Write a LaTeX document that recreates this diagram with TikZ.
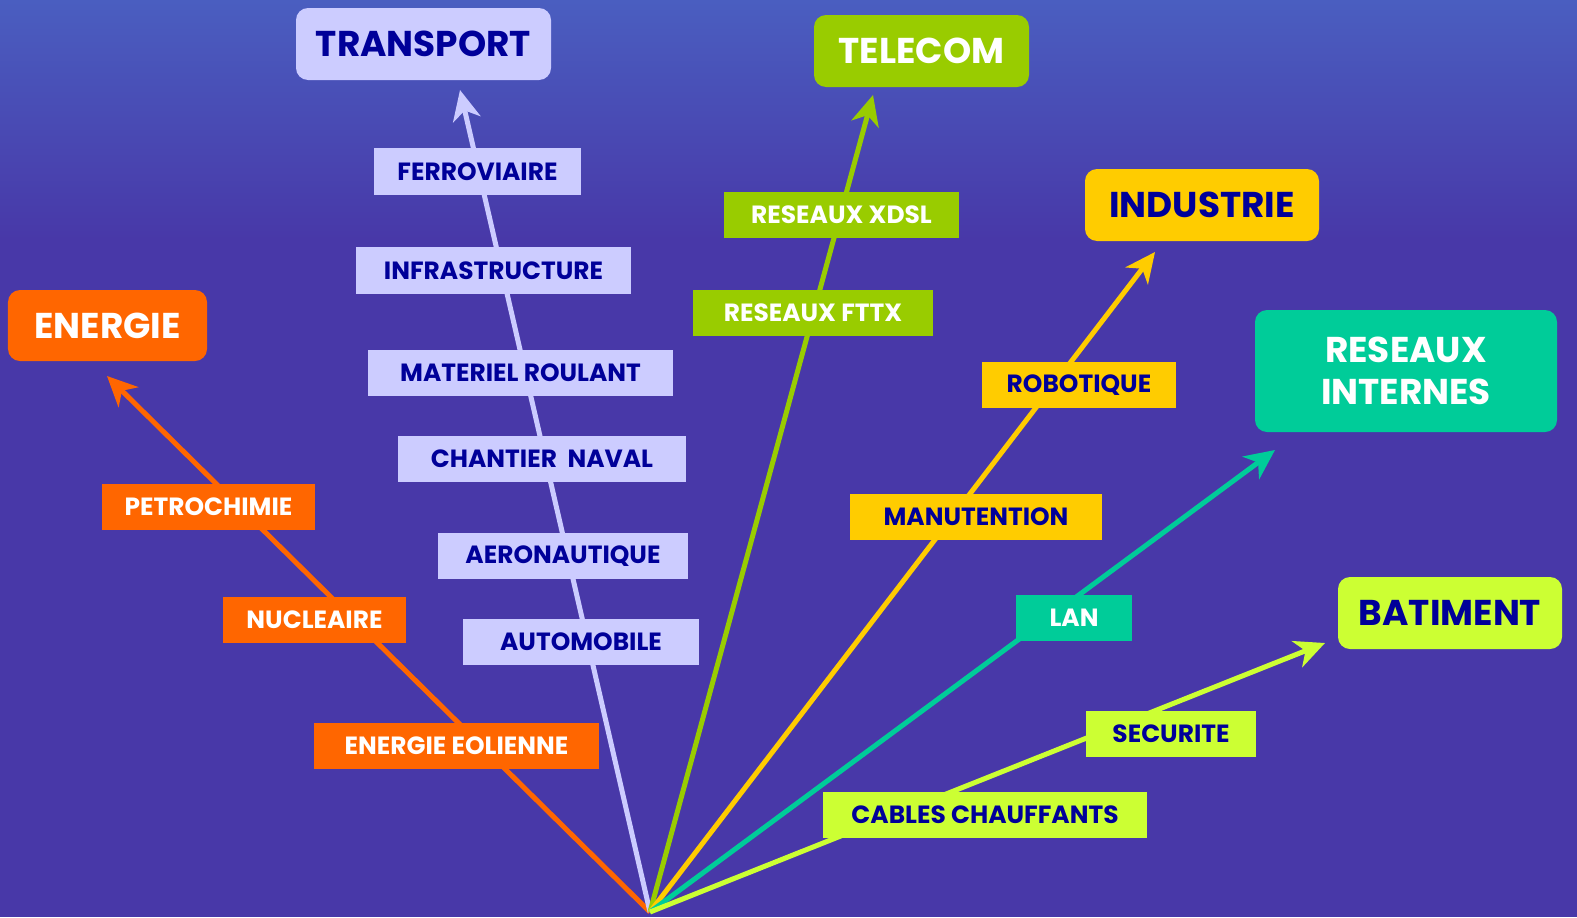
\documentclass[tikz,border=0pt]{standalone}
\usepackage{fontspec}
\setmainfont{Poppins}
\usetikzlibrary{arrows.meta}
\definecolor{bgA}{HTML}{4A5EC0}
\definecolor{bgB}{HTML}{4838A8}
\definecolor{lav}{HTML}{CCCCFF}
\definecolor{navy}{HTML}{000099}
\definecolor{orng}{HTML}{FF6600}
\definecolor{grn}{HTML}{99CC00}
\definecolor{yel}{HTML}{FFCC00}
\definecolor{tealc}{HTML}{00CC99}
\definecolor{limec}{HTML}{CCFF33}
\begin{document}
\begin{tikzpicture}[x=1bp,y=-1bp,
  lab/.style={inner sep=0pt, font=\fontsize{25}{28}\selectfont\bfseries, yshift=-5bp},
  big/.style={inner sep=0pt, rounded corners=12bp, font=\fontsize{36}{42}\selectfont\bfseries, align=center},
  conn/.style={line width=5bp, -{Stealth[length=30bp,width=28bp,inset=9bp]}}]
\useasboundingbox (0,0) rectangle (1577,917);
\fill[bgB] (0,0) rectangle (1577,917);
\shade[top color=bgA, bottom color=bgB] (0,0) rectangle (1577,240);

\coordinate (o) at (650,912);
\coordinate (tE) at (107,376);
\coordinate (tT) at (460,90);
\coordinate (tC) at (873,95);
\coordinate (tI) at (1155,252);
\coordinate (tR) at (1275,450);
\coordinate (tB) at (1325,643);

\draw[conn, orng] (o) -- (tE);
\draw[conn, lav] (o) -- (tT);
\draw[conn, grn] (o) -- (tC);
\draw[conn, yel] (o) -- (tI);
\draw[conn, tealc] (o) -- (tR);
\draw[conn, limec] (o) -- (tB);

% main boxes
\node[big, fill=lav, text=navy, minimum width=255bp, minimum height=72bp] (transport) at (423.5,44) {TRANSPORT};
\node[big, fill=grn, text=white, minimum width=215bp, minimum height=72bp] (telecom) at (921.5,51) {TELECOM};
\node[big, fill=yel, text=navy, minimum width=234bp, minimum height=72bp] (industrie) at (1202,205) {INDUSTRIE};
\node[big, fill=tealc, text=white, minimum width=302bp, minimum height=122bp] (reseaux) at (1406,371) {RESEAUX\\INTERNES};
\node[big, fill=limec, text=navy, minimum width=224bp, minimum height=72bp] (batiment) at (1450,613) {BATIMENT};
\node[big, fill=orng, text=white, minimum width=199bp, minimum height=71bp] (energie) at (107.5,325.5) {ENERGIE};

% transport labels
\node[lab, fill=lav, text=navy, minimum width=207bp, minimum height=47bp] (ferro) at (477.5,166.5) {FERROVIAIRE};
\node[lab, fill=lav, text=navy, minimum width=275bp, minimum height=47bp] (infra) at (493.5,265.5) {INFRASTRUCTURE};
\node[lab, fill=lav, text=navy, minimum width=305bp, minimum height=46bp] (materiel) at (520.5,368) {MATERIEL ROULANT};
\node[lab, fill=lav, text=navy, minimum width=288bp, minimum height=46bp] (chantier) at (542,454) {CHANTIER\ \ NAVAL};
\node[lab, fill=lav, text=navy, minimum width=250bp, minimum height=46bp] (aero) at (563,551) {AERONAUTIQUE};
\node[lab, fill=lav, text=navy, minimum width=236bp, minimum height=46bp] (auto) at (581,637) {AUTOMOBILE};

% telecom labels
\node[lab, fill=grn, text=white, minimum width=235bp, minimum height=46bp] (xdsl) at (841.5,210) {RESEAUX XDSL};
\node[lab, fill=grn, text=white, minimum width=240bp, minimum height=46bp] (fttx) at (813,308) {RESEAUX FTTX};

% industrie labels
\node[lab, fill=yel, text=navy, minimum width=194bp, minimum height=46bp] (robot) at (1079,380) {ROBOTIQUE};
\node[lab, fill=yel, text=navy, minimum width=252bp, minimum height=46bp] (manut) at (976,512) {MANUTENTION};

% reseaux labels
\node[lab, fill=tealc, text=white, minimum width=116bp, minimum height=46bp] (lan) at (1074,613) {LAN};

% batiment labels
\node[lab, fill=limec, text=navy, minimum width=170bp, minimum height=46bp] (secu) at (1171,729) {SECURITE};
\node[lab, fill=limec, text=navy, minimum width=324bp, minimum height=46bp] (cables) at (985,810) {CABLES CHAUFFANTS};

% energie labels
\node[lab, fill=orng, text=white, minimum width=213bp, minimum height=46bp] (petro) at (208.5,502) {PETROCHIMIE};
\node[lab, fill=orng, text=white, minimum width=183bp, minimum height=46bp] (nucl) at (314.5,615) {NUCLEAIRE};
\node[lab, fill=orng, text=white, minimum width=285bp, minimum height=46bp] (eol) at (456.5,741) {ENERGIE EOLIENNE};
\end{tikzpicture}
\end{document}
